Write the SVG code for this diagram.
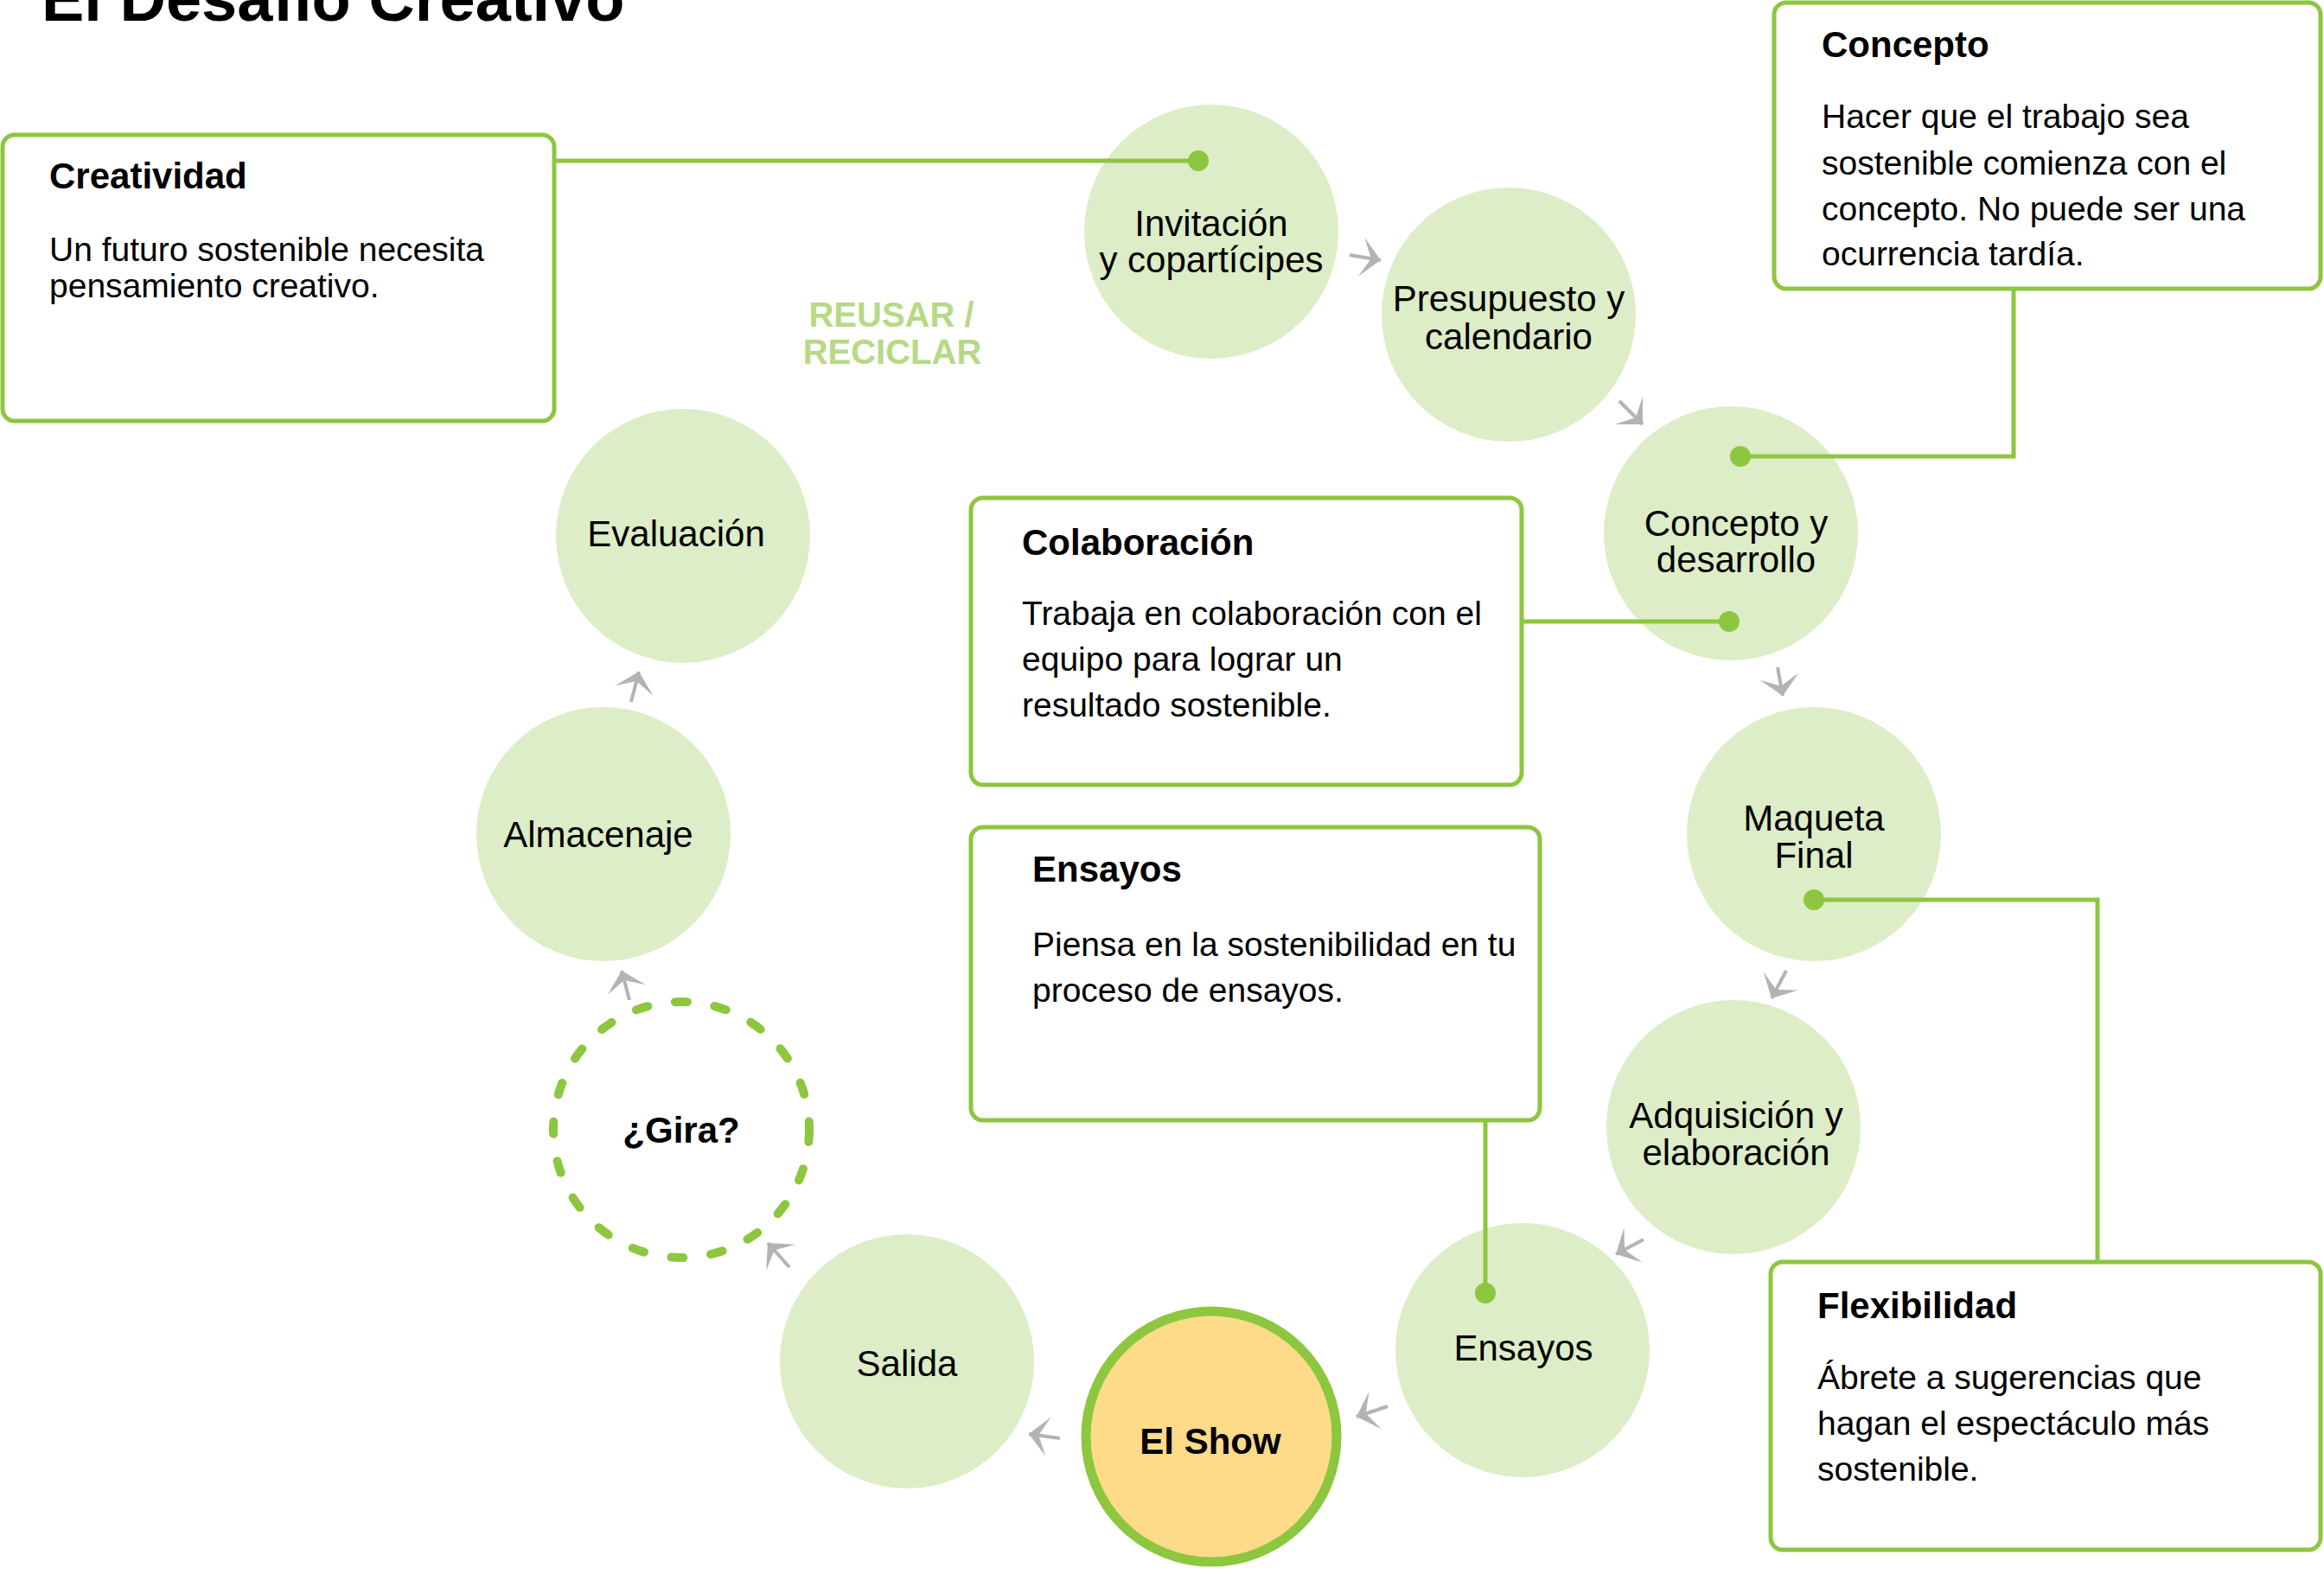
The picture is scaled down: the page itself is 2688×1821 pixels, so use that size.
<svg xmlns="http://www.w3.org/2000/svg" width="2688" height="1821" viewBox="0 0 2688 1821">
<style>
.bg{fill:#ffffff}
.box{fill:#ffffff;stroke:#8DC63F;stroke-width:5}
.node{fill:#DDEDC7}
.show{fill:#FDDB88;stroke:#8DC63F;stroke-width:11}
.gira{fill:none;stroke:#8DC63F;stroke-width:10;stroke-dasharray:14 32;stroke-linecap:round}
.ct{font-family:"Liberation Sans",Arial,sans-serif;font-size:42px;fill:#000;text-anchor:middle}
.ctb{font-family:"Liberation Sans",Arial,sans-serif;font-size:42px;font-weight:bold;fill:#000;text-anchor:middle}
.bt{font-family:"Liberation Sans",Arial,sans-serif;font-size:42px;font-weight:bold;fill:#000}
.bb{font-family:"Liberation Sans",Arial,sans-serif;font-size:39px;fill:#000}
.title{font-family:"Liberation Sans",Arial,sans-serif;font-size:74px;font-weight:bold;fill:#000}
.reuse{font-family:"Liberation Sans",Arial,sans-serif;font-size:40px;font-weight:bold;fill:#B6D985;text-anchor:middle}
.link{fill:none;stroke:#8DC63F;stroke-width:5}
.dot{fill:#8DC63F}
.arr{fill:none;stroke:#B3B3B3;stroke-width:4;marker-end:url(#ah)}
</style>
<defs>
<marker id="ah" markerUnits="userSpaceOnUse" markerWidth="30" markerHeight="50" viewBox="-22 -22 24 44" refX="0" refY="0" orient="auto">
<polygon points="0,0 -20,-20 -10,0 -20,20" fill="#B3B3B3"/>
</marker>
</defs>
<rect class="bg" x="0" y="0" width="2688" height="1821"/>
<text class="title" x="48" y="24">El Desafío Creativo</text>
<g id="reusar">
<text class="reuse" x="1031" y="378">REUSAR /</text>
<text class="reuse" x="1032" y="421">RECICLAR</text>
</g>
<g id="box-creatividad">
<rect class="box" x="3" y="156" width="638" height="331" rx="14"/>
<text class="bt" x="57" y="218">Creatividad</text>
<text class="bb" x="57" y="302">Un futuro sostenible necesita</text>
<text class="bb" x="57" y="344">pensamiento creativo.</text>
</g>
<g id="box-concepto">
<rect class="box" x="2052" y="3" width="632" height="331" rx="14"/>
<text class="bt" x="2107" y="66">Concepto</text>
<text class="bb" x="2107" y="148">Hacer que el trabajo sea</text>
<text class="bb" x="2107" y="202">sostenible comienza con el</text>
<text class="bb" x="2107" y="255">concepto. No puede ser una</text>
<text class="bb" x="2107" y="307">ocurrencia tardía.</text>
</g>
<g id="box-colaboracion">
<rect class="box" x="1123" y="576" width="637" height="332" rx="14"/>
<text class="bt" x="1182" y="642">Colaboración</text>
<text class="bb" x="1182" y="723">Trabaja en colaboración con el</text>
<text class="bb" x="1182" y="776">equipo para lograr un</text>
<text class="bb" x="1182" y="829">resultado sostenible.</text>
</g>
<g id="box-ensayos">
<rect class="box" x="1123" y="957" width="658" height="339" rx="14"/>
<text class="bt" x="1194" y="1020">Ensayos</text>
<text class="bb" x="1194" y="1106">Piensa en la sostenibilidad en tu</text>
<text class="bb" x="1194" y="1159">proceso de ensayos.</text>
</g>
<g id="box-flexibilidad">
<rect class="box" x="2048" y="1460" width="636" height="333" rx="14"/>
<text class="bt" x="2102" y="1525">Flexibilidad</text>
<text class="bb" x="2102" y="1607">Ábrete a sugerencias que</text>
<text class="bb" x="2102" y="1660">hagan el espectáculo más</text>
<text class="bb" x="2102" y="1713">sostenible.</text>
</g>
<g id="node-invitacion">
<circle class="node" cx="1401" cy="268" r="147"/>
<text class="ct" x="1401" y="273">Invitación</text>
<text class="ct" x="1401" y="315">y copartícipes</text>
</g>
<g id="node-presupuesto">
<circle class="node" cx="1745" cy="364" r="147"/>
<text class="ct" x="1745" y="360">Presupuesto y</text>
<text class="ct" x="1745" y="404">calendario</text>
</g>
<g id="node-concepto">
<circle class="node" cx="2002" cy="617" r="147"/>
<text class="ct" x="2008" y="620">Concepto y</text>
<text class="ct" x="2008" y="662">desarrollo</text>
</g>
<g id="node-maqueta">
<circle class="node" cx="2098" cy="965" r="147"/>
<text class="ct" x="2098" y="961">Maqueta</text>
<text class="ct" x="2098" y="1004">Final</text>
</g>
<g id="node-adquisicion">
<circle class="node" cx="2005" cy="1304" r="147"/>
<text class="ct" x="2008" y="1305">Adquisición y</text>
<text class="ct" x="2008" y="1348">elaboración</text>
</g>
<g id="node-ensayos">
<circle class="node" cx="1761" cy="1562" r="147"/>
<text class="ct" x="1762" y="1574">Ensayos</text>
</g>
<g id="node-show">
<circle class="show" cx="1401" cy="1662" r="145"/>
<text class="ctb" x="1400" y="1682">El Show</text>
</g>
<g id="node-salida">
<circle class="node" cx="1049" cy="1575" r="147"/>
<text class="ct" x="1049" y="1592">Salida</text>
</g>
<g id="node-gira">
<circle class="gira" cx="788" cy="1307" r="148"/>
<text class="ctb" x="788" y="1322">¿Gira?</text>
</g>
<g id="node-almacenaje">
<circle class="node" cx="698" cy="965" r="147"/>
<text class="ct" x="692" y="980">Almacenaje</text>
</g>
<g id="node-evaluacion">
<circle class="node" cx="790" cy="620" r="147"/>
<text class="ct" x="782" y="632">Evaluación</text>
</g>
<g id="connectors">
<path class="link" d="M641,186 H1386"/>
<circle class="dot" cx="1386" cy="186" r="12"/>
<path class="link" d="M2329,334 V528 H2013"/>
<circle class="dot" cx="2013" cy="528" r="12"/>
<path class="link" d="M1760,719 H2000"/>
<circle class="dot" cx="2000" cy="719" r="12"/>
<path class="link" d="M2098,1041 H2426 V1460"/>
<circle class="dot" cx="2098" cy="1041" r="12"/>
<path class="link" d="M1718,1296 V1496"/>
<circle class="dot" cx="1718" cy="1496" r="12"/>
<path class="arr" d="M1561,295 L1597,301"/>
<path class="arr" d="M1873,464 L1900,491"/>
<path class="arr" d="M2056,772 L2062,805"/>
<path class="arr" d="M2066,1123 L2049,1155"/>
<path class="arr" d="M1901,1434 L1869,1451"/>
<path class="arr" d="M1605,1627 L1569,1639"/>
<path class="arr" d="M1226,1664 L1190,1659"/>
<path class="arr" d="M913,1466 L888,1438"/>
<path class="arr" d="M728,1157 L719,1123"/>
<path class="arr" d="M730,812 L739,777"/>
</g>
</svg>
